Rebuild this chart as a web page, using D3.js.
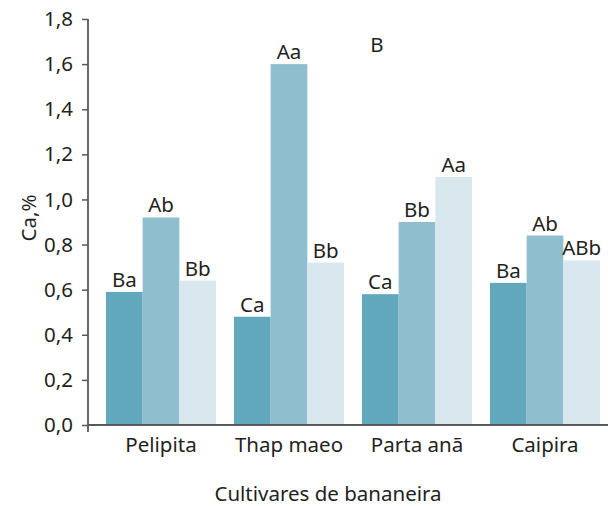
<!DOCTYPE html>
<html lang="pt">
  <head>
    <meta charset="utf-8">
    <title>Ca por cultivar</title>
    <style>
      body { margin: 0; background: #fff; }
      svg text { font-family: "Noto Sans", "DejaVu Sans", sans-serif; fill: #231f20; }
    </style>
  </head>
  <body>
    <div class="graph"></div>
    <script src="https://d3js.org/d3.v7.min.js"></script>
    <script>
      var cultivars = ['Pelipita', 'Thap maeo', 'Parta anã', 'Caipira'];
      var series = ['s1', 's2', 's3'];
      var values = [
        [0.59, 0.92, 0.64],
        [0.48, 1.60, 0.72],
        [0.58, 0.90, 1.10],
        [0.63, 0.84, 0.73]
      ];
      var letters = [
        ['Ba', 'Ab', 'Bb'],
        ['Ca', 'Aa', 'Bb'],
        ['Ca', 'Bb', 'Aa'],
        ['Ba', 'Ab', 'ABb']
      ];
      var yTicks = [0, 0.2, 0.4, 0.6, 0.8, 1.0, 1.2, 1.4, 1.6, 1.8];
      var colors = ['#62a8bd', '#8fbfce', '#d9e8ee'];

      var width = 608, height = 506;
      var fs = '20.5px';
      var svg = d3.select('.graph').append('svg')
        .attr('width', width)
        .attr('height', height);

      var x = d3.scaleBand().domain(cultivars).range([97, 609])
        .paddingInner(0.14).paddingOuter(0.07);
      var xs = d3.scaleBand().domain(series).range([0, x.bandwidth()]);
      var y = d3.scaleLinear().domain([0, 1.8]).range([425, 19]);

      var groups = svg.selectAll('g.grp')
        .data(values)
        .enter()
        .append('g')
        .attr('class', 'grp')
        .attr('transform', function(d, i) { return 'translate(' + x(cultivars[i]) + ',0)'; });

      groups.selectAll('rect')
        .data(function(d) { return d; })
        .enter()
        .append('rect')
        .attr('x', function(d, j) { return xs(series[j]); })
        .attr('width', xs.bandwidth())
        .attr('y', function(d) { return y(d); })
        .attr('height', function(d) { return y(0) - y(d); })
        .attr('fill', function(d, j) { return colors[j]; });

      groups.each(function(d, i) {
        d3.select(this).selectAll('text')
          .data(d)
          .enter()
          .append('text')
          .attr('x', function(v, j) { return xs(series[j]) + xs.bandwidth() / 2; })
          .attr('y', function(v) { return y(v) - 5; })
          .attr('text-anchor', 'middle')
          .style('font-size', fs)
          .text(function(v, j) { return letters[i][j]; });
      });

      // y axis
      var yAxis = svg.append('g')
        .attr('transform', 'translate(88,0)')
        .call(d3.axisLeft(y).tickValues(yTicks).tickSize(6).tickPadding(9)
          .tickFormat(function(d) { return d3.format('.1f')(d).replace('.', ','); }));
      yAxis.select('.domain').remove();
      yAxis.selectAll('line').attr('stroke', '#58595b').attr('stroke-width', 1.5);
      yAxis.selectAll('text').style('font-size', fs).attr('fill', '#231f20');
      svg.append('line')
        .attr('x1', 88).attr('x2', 88).attr('y1', y(1.8)).attr('y2', 432)
        .attr('stroke', '#58595b').attr('stroke-width', 1.8);

      // x axis
      var xAxis = svg.append('g')
        .attr('transform', 'translate(0,425)')
        .call(d3.axisBottom(x).tickSize(0).tickPadding(12));
      xAxis.select('.domain').remove();
      xAxis.selectAll('text').style('font-size', fs).attr('fill', '#231f20');
      svg.append('line')
        .attr('x1', 88).attr('x2', 608).attr('y1', 425).attr('y2', 425)
        .attr('stroke', '#58595b').attr('stroke-width', 1.8);

      svg.append('text')
        .attr('x', 328).attr('y', 501)
        .attr('text-anchor', 'middle')
        .style('font-size', fs)
        .text('Cultivares de bananeira');

      svg.append('text')
        .attr('transform', 'translate(36,218) rotate(-90)')
        .attr('text-anchor', 'middle')
        .style('font-size', fs)
        .text('Ca,%');

      svg.append('text')
        .attr('x', 377).attr('y', 52)
        .attr('text-anchor', 'middle')
        .style('font-size', fs)
        .text('B');
    </script>
  </body>
</html>
